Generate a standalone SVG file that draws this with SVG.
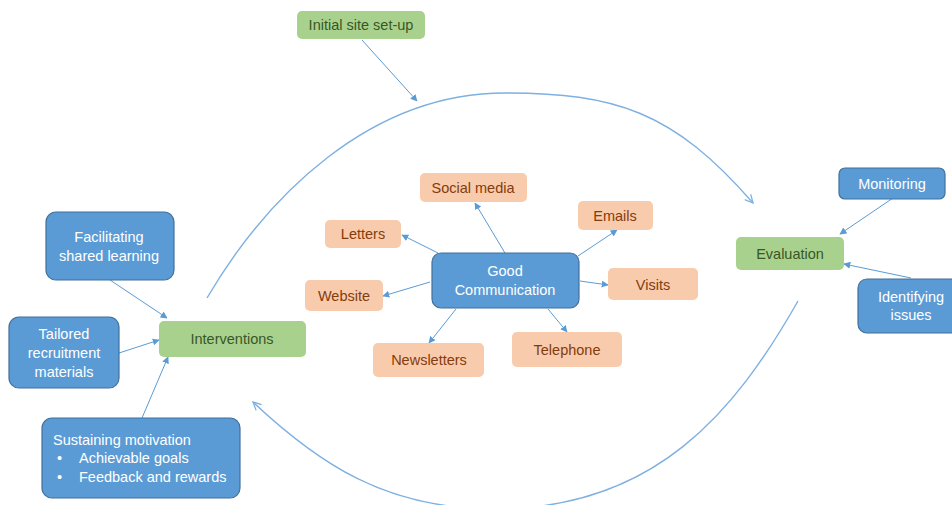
<svg xmlns="http://www.w3.org/2000/svg" width="952" height="505" viewBox="0 0 952 505">
<defs>
<marker id="tri" viewBox="0 0 10 10" refX="9" refY="5" markerWidth="7" markerHeight="7" markerUnits="userSpaceOnUse" orient="auto">
<path d="M0,0 L10,5 L0,10 z" fill="#5B9BD5"/>
</marker>
<marker id="open" viewBox="0 0 10 10" refX="9" refY="5" markerWidth="10" markerHeight="10" markerUnits="userSpaceOnUse" orient="auto">
<path d="M1,1 L9,5 L1,9" fill="none" stroke="#7EB0E2" stroke-width="1.3"/>
</marker>
</defs>
<style>
text{font-family:"Liberation Sans",Arial,sans-serif;font-size:14.5px;text-anchor:middle}
.blue rect{fill:#5B9BD5;stroke:#41719C;stroke-width:1.2}
.blue text{fill:#FFFFFF}
.orange rect{fill:#F8CBAD;stroke:none}
.orange text{fill:#843C0C}
.green rect{fill:#A9D18E;stroke:none}
.green text{fill:#385723}
.c{fill:none;stroke:#5B9BD5;stroke-width:1;marker-end:url(#tri)}
.arc{fill:none;stroke:#7EB0E2;stroke-width:1.4;marker-end:url(#open)}
</style>
<rect width="952" height="505" fill="#FFFFFF"/>
<g id="connectors">
<path class="arc" d="M207,298 C267,196 370,93 505,93 C615,93 673,111 753,203"/>
<path class="arc" d="M798,301 C735,412 655,509 495,509 C385,509 318,463 253,402"/>
<line class="c" x1="362" y1="40" x2="417" y2="101"/>
<line class="c" x1="110" y1="280" x2="167" y2="318"/>
<line class="c" x1="119" y1="353" x2="159" y2="340"/>
<line class="c" x1="142" y1="418" x2="168" y2="357"/>
<line class="c" x1="505" y1="253" x2="475" y2="203"/>
<line class="c" x1="438" y1="253" x2="402" y2="235"/>
<line class="c" x1="578" y1="256" x2="617" y2="230"/>
<line class="c" x1="580" y1="281" x2="608" y2="285"/>
<line class="c" x1="430" y1="282" x2="383" y2="296"/>
<line class="c" x1="456" y1="309" x2="429" y2="343"/>
<line class="c" x1="548" y1="309" x2="567" y2="332"/>
<line class="c" x1="893" y1="198" x2="840" y2="234"/>
<line class="c" x1="911" y1="278" x2="844" y2="264"/>
</g>
<g id="initial" class="green"><rect x="297" y="11" width="128" height="28" rx="5"/><text x="361" y="30">Initial site set-up</text></g>
<g id="social" class="orange"><rect x="420" y="173" width="107" height="29" rx="5"/><text x="473" y="193">Social media</text></g>
<g id="emails" class="orange"><rect x="578" y="201" width="75" height="29" rx="5"/><text x="615" y="221">Emails</text></g>
<g id="letters" class="orange"><rect x="325" y="220" width="76" height="28" rx="5"/><text x="363" y="239">Letters</text></g>
<g id="goodcomm" class="blue"><rect x="432" y="253" width="147" height="55" rx="9"/><text x="505" y="276">Good</text><text x="505" y="295">Communication</text></g>
<g id="visits" class="orange"><rect x="608" y="268" width="90" height="32" rx="5"/><text x="653" y="290">Visits</text></g>
<g id="website" class="orange"><rect x="305" y="280" width="78" height="31" rx="5"/><text x="344" y="301">Website</text></g>
<g id="newsletters" class="orange"><rect x="373" y="343" width="111" height="34" rx="5"/><text x="429" y="365">Newsletters</text></g>
<g id="telephone" class="orange"><rect x="512" y="332" width="110" height="35" rx="5"/><text x="567" y="355">Telephone</text></g>
<g id="interventions" class="green"><rect x="159" y="321" width="147" height="36" rx="5"/><text x="232" y="344">Interventions</text></g>
<g id="facilitating" class="blue"><rect x="46" y="212" width="128" height="68" rx="10"/><text x="109" y="242">Facilitating</text><text x="109" y="261">shared learning</text></g>
<g id="tailored" class="blue"><rect x="9" y="317" width="110" height="71" rx="10"/><text x="64" y="339">Tailored</text><text x="64" y="358">recruitment</text><text x="64" y="377">materials</text></g>
<g id="sustaining" class="blue"><rect x="42" y="418" width="198" height="80" rx="10"/><text x="53" y="445" style="text-anchor:start">Sustaining motivation</text><text x="57" y="463" style="text-anchor:start">•</text><text x="79" y="463" style="text-anchor:start">Achievable goals</text><text x="57" y="482" style="text-anchor:start">•</text><text x="79" y="482" style="text-anchor:start">Feedback and rewards</text></g>
<g id="evaluation" class="green"><rect x="736" y="237" width="108" height="33" rx="5"/><text x="790" y="259">Evaluation</text></g>
<g id="monitoring" class="blue"><rect x="839" y="168" width="106" height="31" rx="6"/><text x="892" y="189">Monitoring</text></g>
<g id="identifying" class="blue"><rect x="858" y="279" width="107" height="54" rx="9"/><text x="911" y="302">Identifying</text><text x="911" y="320">issues</text></g>
</svg>
